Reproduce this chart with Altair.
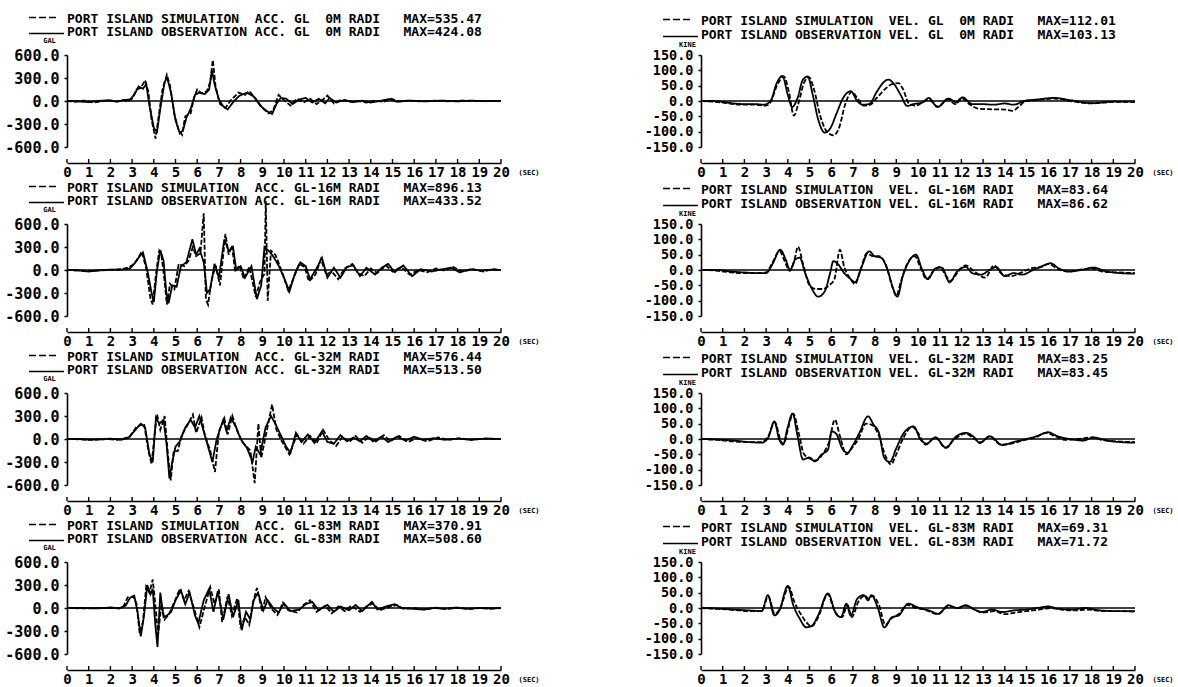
import altair as alt
import pandas as pd

# ---------------- acceleration records (gal) ----------------
acc_gl0_sim_t = [0, 0.4, 0.8, 1.2, 1.6, 2.0, 2.3, 2.6, 2.8, 3.0, 3.2, 3.4, 3.6, 3.75, 3.9, 4.08, 4.25, 4.4, 4.6, 4.75, 4.95, 5.15, 5.3, 5.45, 5.7, 5.85, 6.0, 6.2, 6.45, 6.6, 6.72, 6.85, 7.05, 7.3, 7.55, 7.9, 8.2, 8.4, 8.7, 9.0, 9.3, 9.5, 9.75, 10.0, 10.3, 10.6, 10.9, 11.2, 11.5, 11.8, 12.0, 12.3, 12.6, 13.0, 13.4, 13.8, 14.2, 14.6, 14.95, 15.3, 15.7, 16.2, 17.0, 17.5, 18.2, 19.0, 20.0]
acc_gl0_sim_v = [0, -8, 5, -20, -5, 8, -5, 15, -10, 30, 150, 170, 270, 120, -250, -490, -150, 150, 340, 200, -180, -380, -440, -200, -160, 40, 150, 100, 130, 250, 535, 180, -40, -90, 10, 110, 80, 130, 30, -90, -160, -120, 80, 10, -60, 30, -20, 30, -40, 20, 70, -30, 10, -10, 0, -20, 5, -10, 30, -5, 5, -5, 5, -5, 5, -3, 0]
acc_gl0_obs_t = [0, 0.5, 1.0, 1.4, 1.9, 2.3, 2.6, 2.9, 3.1, 3.3, 3.5, 3.65, 3.8, 4.0, 4.15, 4.3, 4.5, 4.62, 4.8, 5.0, 5.2, 5.35, 5.5, 5.7, 5.9, 6.1, 6.35, 6.55, 6.68, 6.8, 7.0, 7.2, 7.4, 7.7, 7.95, 8.3, 8.6, 8.9, 9.2, 9.45, 9.65, 9.85, 10.1, 10.4, 10.7, 11.0, 11.3, 11.6, 11.9, 12.1, 12.4, 12.8, 13.2, 13.6, 14.0, 14.4, 14.85, 15.2, 15.8, 16.5, 17.3, 18.0, 18.6, 19.3, 20.0]
acc_gl0_obs_v = [0, -5, -15, 0, 10, -10, 10, 20, 80, 190, 160, 220, -60, -350, -400, -100, 250, 300, 100, -250, -424, -380, -220, -100, 80, 110, 90, 150, 400, 220, 20, -70, -110, 0, 70, 110, 60, -60, -130, -170, -40, 40, 30, -40, 20, 40, -20, 30, -30, 40, -20, 15, -15, 5, -20, 0, 25, -10, 5, -5, 5, -5, 5, -3, 0]

acc_gl16_sim_t = [0, 0.5, 1.0, 1.5, 2.0, 2.5, 2.8, 3.0, 3.2, 3.45, 3.65, 3.85, 3.95, 4.1, 4.25, 4.35, 4.5, 4.6, 4.75, 4.95, 5.15, 5.4, 5.6, 5.8, 5.95, 6.15, 6.3, 6.4, 6.5, 6.65, 6.85, 7.05, 7.3, 7.45, 7.6, 7.75, 7.95, 8.15, 8.4, 8.7, 8.9, 9.1, 9.16, 9.25, 9.4, 9.6, 9.85, 10.2, 10.45, 10.7, 10.95, 11.15, 11.45, 11.7, 11.95, 12.2, 12.5, 12.8, 13.15, 13.4, 13.7, 14.0, 14.3, 14.7, 15.0, 15.4, 15.8, 16.2, 16.6, 17.0, 17.4, 17.8, 18.2, 18.7, 19.2, 19.6, 20.0]
acc_gl16_sim_v = [0, -5, -15, -5, 0, 10, 30, 60, 120, 240, 20, -380, -450, -50, 250, 200, -150, -450, -180, -250, 80, 50, 120, 300, 180, 220, 740, -380, -450, -150, 60, -200, 470, 200, 320, -20, 60, -120, 40, -350, -150, -50, 896, -400, 250, 200, 20, -270, -100, 80, 40, -150, -60, 140, -60, -20, -120, 20, 80, -40, -80, 20, -40, 60, -20, 40, -60, 0, -30, 20, -10, 40, -20, 10, -20, 10, 0]
acc_gl16_obs_t = [0, 0.5, 1.0, 1.5, 2.0, 2.5, 2.9, 3.1, 3.35, 3.5, 3.7, 3.9, 4.0, 4.15, 4.3, 4.45, 4.58, 4.68, 4.85, 5.05, 5.25, 5.5, 5.78, 5.95, 6.1, 6.3, 6.45, 6.6, 6.8, 7.0, 7.25, 7.45, 7.65, 7.8, 8.0, 8.2, 8.5, 8.75, 8.95, 9.1, 9.3, 9.5, 9.75, 10.0, 10.25, 10.5, 10.75, 11.0, 11.2, 11.5, 11.75, 12.0, 12.3, 12.6, 12.9, 13.2, 13.5, 13.8, 14.2, 14.5, 14.8, 15.1, 15.5, 15.9, 16.3, 16.8, 17.3, 17.7, 18.1, 18.6, 19.1, 19.6, 20.0]
acc_gl16_obs_v = [0, -5, -20, -5, 5, 5, 20, 80, 180, 230, 0, -300, -420, 0, 260, 120, -300, -433, -200, -220, 50, 100, 400, 200, 280, 100, -300, -250, 80, -100, 400, 250, 300, 0, 50, -100, 50, -380, -200, 300, 250, 180, 60, -100, -280, -50, 100, 50, -120, 20, 160, -100, 30, -100, 40, 60, -80, 30, -60, 30, 80, -30, 60, -80, 10, -20, 10, 30, -30, 10, -10, 5, 0]

acc_gl32_sim_t = [0, 0.6, 1.2, 1.8, 2.3, 2.6, 2.9, 3.2, 3.55, 3.75, 3.9, 4.05, 4.15, 4.3, 4.5, 4.65, 4.78, 4.92, 5.1, 5.3, 5.55, 5.8, 5.95, 6.2, 6.35, 6.6, 6.82, 7.0, 7.25, 7.4, 7.62, 7.85, 8.1, 8.45, 8.65, 8.82, 8.95, 9.2, 9.45, 9.65, 9.9, 10.25, 10.6, 10.9, 11.2, 11.5, 11.8, 12.1, 12.4, 12.7, 13.0, 13.3, 13.6, 13.9, 14.2, 14.6, 14.9, 15.3, 15.7, 16.1, 16.6, 17.1, 17.6, 18.1, 18.6, 19.2, 20.0]
acc_gl32_sim_v = [0, -5, -10, 0, -10, 5, 30, 160, 200, -150, -330, 100, 320, 120, 300, -200, -540, -150, -160, 60, 180, 320, 80, 280, 50, -150, -430, 100, 270, 60, 300, 100, -50, -150, -576, 200, -250, 100, 450, 120, -30, -200, 60, -60, 40, -60, 120, -20, -90, 30, -40, 40, -50, 30, -40, 50, -30, 40, -40, 10, -30, 20, -10, 10, -10, 5, 0]
acc_gl32_obs_t = [0, 0.5, 1.0, 1.6, 2.0, 2.5, 2.8, 3.1, 3.4, 3.6, 3.8, 3.95, 4.1, 4.25, 4.45, 4.6, 4.72, 4.85, 5.0, 5.2, 5.45, 5.7, 5.9, 6.1, 6.3, 6.5, 6.7, 6.9, 7.2, 7.35, 7.55, 7.8, 8.0, 8.3, 8.55, 8.7, 8.9, 9.15, 9.4, 9.6, 9.85, 10.1, 10.3, 10.55, 10.8, 11.1, 11.4, 11.75, 12.0, 12.3, 12.6, 12.9, 13.2, 13.5, 13.8, 14.1, 14.5, 14.8, 15.2, 15.6, 16.0, 16.4, 16.9, 17.4, 18.0, 18.6, 19.3, 20.0]
acc_gl32_obs_v = [0, 0, -10, -5, 5, -10, 10, 100, 200, 150, -200, -300, 280, 200, 250, -100, -513, -300, -100, -30, 150, 250, 150, 300, 100, -100, -300, 0, 250, 100, 280, 150, 0, -120, -300, -100, -200, 150, 300, 200, 50, -100, -180, 80, -40, 60, -50, 100, -40, -60, 50, -30, 20, -30, 40, -30, 30, -40, 30, -20, 30, -10, 10, -10, 5, -10, 5, 0]

acc_gl83_sim_t = [0, 0.8, 1.6, 2.1, 2.4, 2.6, 2.8, 3.05, 3.2, 3.35, 3.5, 3.65, 3.8, 3.95, 4.05, 4.2, 4.35, 4.5, 4.7, 4.95, 5.2, 5.4, 5.6, 5.85, 6.1, 6.35, 6.6, 6.8, 7.0, 7.15, 7.4, 7.6, 7.85, 8.0, 8.2, 8.4, 8.55, 8.75, 9.0, 9.15, 9.45, 9.7, 9.95, 10.2, 10.6, 10.9, 11.2, 11.5, 11.9, 12.2, 12.5, 12.8, 13.1, 13.5, 13.8, 14.1, 14.4, 14.8, 15.2, 15.5, 16.0, 16.5, 17.0, 17.5, 18.0, 18.5, 19.0, 19.5, 20.0]
acc_gl83_sim_v = [0, -5, 0, 5, -5, 20, 140, 150, 60, -330, -180, 280, 200, 371, 100, -350, 50, -150, -80, 80, 250, 100, 220, 0, -250, 20, 270, 50, 240, -180, 150, -100, 130, -260, -120, -220, 50, 260, -50, 140, -20, -90, 70, -30, -60, 40, 100, -50, 30, -70, 20, -40, 30, -50, 20, 60, -30, 10, 40, -10, 0, -20, 5, -15, 5, -15, 0, -10, 0]
acc_gl83_obs_t = [0, 0.7, 1.4, 2.0, 2.4, 2.7, 2.9, 3.1, 3.25, 3.4, 3.55, 3.7, 3.85, 3.95, 4.08, 4.17, 4.3, 4.45, 4.6, 4.8, 5.0, 5.25, 5.45, 5.65, 5.9, 6.05, 6.3, 6.55, 6.75, 6.95, 7.2, 7.45, 7.65, 7.9, 8.05, 8.25, 8.45, 8.6, 8.8, 9.05, 9.25, 9.5, 9.75, 10.0, 10.3, 10.7, 11.0, 11.3, 11.6, 12.0, 12.3, 12.6, 13.0, 13.3, 13.6, 14.05, 14.3, 14.7, 15.1, 15.4, 15.9, 16.4, 16.9, 17.4, 17.9, 18.4, 19.0, 19.6, 20.0]
acc_gl83_obs_v = [0, 0, -5, 5, -5, 30, 130, 160, -50, -370, -100, 300, 180, 250, -250, -508, 200, -120, -100, -50, 100, 230, 50, 200, -100, -200, 100, 250, -50, 220, -150, 180, -120, 100, -290, -50, -150, 100, 200, -30, 100, 0, -60, 60, -40, -20, 50, 80, -30, 40, -50, 20, -30, 40, -40, 80, -20, 20, 50, 0, -10, -20, 0, -10, 5, -10, 0, -5, 0]

# ---------------- velocity records (kine) ----------------
vel_gl0_sim_t = [0, 0.5, 1.0, 1.5, 2.0, 2.5, 3.0, 3.2, 3.5, 3.82, 4.05, 4.28, 4.5, 4.75, 4.98, 5.2, 5.5, 5.8, 6.1, 6.35, 6.65, 6.95, 7.2, 7.5, 7.8, 8.1, 8.5, 8.8, 9.1, 9.3, 9.6, 9.9, 10.2, 10.5, 10.9, 11.4, 11.7, 12.0, 12.4, 12.8, 13.4, 14.0, 14.35, 14.7, 14.95, 15.5, 16.3, 17.0, 18.0, 19.0, 20.0]
vel_gl0_sim_v = [0, -2, -5, -10, -12, -12, -15, -5, 50, 80, 30, -48, -5, 60, 78, 40, -50, -100, -112, -90, -10, 30, 10, -15, -12, 10, 40, 55, 58, 40, -10, -15, -5, 5, -18, 5, -10, 10, -12, -25, -27, -28, -32, -15, 0, 3, 8, 0, -8, -3, -3]
vel_gl0_obs_t = [0, 0.5, 1.0, 1.5, 2.0, 2.5, 2.9, 3.2, 3.5, 3.75, 4.0, 4.2, 4.45, 4.7, 4.92, 5.15, 5.4, 5.7, 5.95, 6.25, 6.55, 6.9, 7.2, 7.45, 7.75, 8.1, 8.4, 8.63, 8.9, 9.2, 9.5, 9.8, 10.2, 10.5, 10.9, 11.4, 11.8, 12.05, 12.5, 12.9, 13.5, 14.0, 14.4, 14.9, 15.5, 16.3, 17.0, 18.0, 19.0, 20.0]
vel_gl0_obs_v = [0, 0, -3, -8, -10, -10, -12, 0, 60, 82, 20, -20, 10, 70, 80, 20, -60, -103, -90, -40, 10, 32, 0, -12, -10, 30, 60, 70, 55, 20, -16, -10, -5, 10, -20, 8, -5, 12, -10, -10, -12, -8, -12, 0, 5, 10, 3, -7, -2, -2]

vel_gl16_sim_t = [0, 0.7, 1.4, 2.0, 2.6, 3.0, 3.3, 3.62, 3.85, 4.1, 4.3, 4.47, 4.7, 5.0, 5.3, 5.6, 5.9, 6.15, 6.4, 6.6, 6.85, 7.1, 7.35, 7.65, 7.9, 8.2, 8.5, 8.8, 9.0, 9.2, 9.5, 9.85, 10.1, 10.4, 10.75, 11.0, 11.3, 11.5, 11.8, 12.2, 12.6, 13.1, 13.5, 13.9, 14.3, 14.7, 15.2, 15.7, 16.0, 16.4, 16.9, 17.4, 18.0, 18.5, 19.2, 20.0]
vel_gl16_sim_v = [0, -2, -8, -10, -10, -8, 25, 62, 30, -3, 30, 76, 20, -50, -62, -62, -50, -30, 66, 10, -25, -46, 0, 55, 45, 45, 20, -50, -84, -40, 20, 45, 10, -30, 0, 10, -20, -35, -10, 15, -5, -25, 15, -15, -20, -10, 5, 10, 20, 5, -5, 0, 5, -5, -8, -10]
vel_gl16_obs_t = [0, 0.7, 1.4, 2.0, 2.6, 3.0, 3.3, 3.65, 3.9, 4.1, 4.35, 4.55, 4.8, 5.1, 5.4, 5.7, 5.95, 6.1, 6.3, 6.6, 6.9, 7.1, 7.4, 7.75, 8.0, 8.3, 8.6, 8.85, 9.05, 9.3, 9.6, 9.9, 10.2, 10.45, 10.8, 11.1, 11.45, 11.8, 12.2, 12.5, 12.9, 13.3, 13.6, 14.0, 14.4, 14.8, 15.3, 15.8, 16.1, 16.5, 17.0, 17.5, 18.1, 18.6, 19.3, 20.0]
vel_gl16_obs_v = [0, 0, -5, -8, -10, -10, 20, 66, 35, 0, 35, 40, -10, -60, -87, -70, -10, 29, 20, -10, -30, -40, 10, 61, 45, 40, 0, -60, -87, -20, 30, 50, 0, -30, 5, 8, -40, -5, 10, -10, -15, 0, 10, -20, -10, -15, 0, 15, 22, 5, -5, 0, 8, -3, -10, -12]

vel_gl32_sim_t = [0, 0.8, 1.5, 2.2, 2.8, 3.1, 3.4, 3.7, 3.82, 4.0, 4.25, 4.5, 4.75, 5.05, 5.3, 5.6, 5.9, 6.17, 6.4, 6.7, 6.95, 7.25, 7.6, 7.9, 8.2, 8.5, 8.75, 9.0, 9.3, 9.75, 10.0, 10.35, 10.8, 11.25, 11.7, 12.2, 12.6, 12.9, 13.3, 13.8, 14.3, 14.8, 15.4, 15.9, 16.3, 16.8, 17.4, 18.0, 18.5, 19.2, 20.0]
vel_gl32_sim_v = [0, -3, -8, -10, -10, 10, 55, -10, -15, 30, 83, 20, -50, -65, -70, -50, -10, 63, 10, -50, -30, 0, 50, 45, 10, -55, -83, -50, 0, 40, 20, -18, 5, -28, 0, 18, 0, -10, 8, -18, -15, -5, 5, 20, 10, -3, 0, 5, -3, -8, -10]
vel_gl32_obs_t = [0, 0.8, 1.5, 2.2, 2.8, 3.1, 3.38, 3.6, 3.78, 4.0, 4.22, 4.45, 4.7, 5.0, 5.25, 5.55, 5.85, 6.02, 6.25, 6.5, 6.75, 7.0, 7.3, 7.7, 7.95, 8.2, 8.45, 8.7, 9.0, 9.35, 9.8, 10.1, 10.4, 10.8, 11.3, 11.7, 12.2, 12.6, 12.85, 13.3, 13.9, 14.4, 15.0, 15.5, 16.0, 16.4, 17.0, 17.6, 18.1, 18.7, 19.3, 20.0]
vel_gl32_obs_v = [0, -2, -5, -10, -12, 5, 57, 0, -18, 40, 83, 10, -67, -60, -73, -51, -35, 25, 15, -30, -45, -20, 20, 74, 47, 20, -62, -75, -30, 20, 41, 0, -15, 5, -29, 5, 20, 5, -13, 9, -20, -10, 0, 10, 22, 10, 0, -5, 5, -5, -10, -12]

vel_gl83_sim_t = [0, 0.8, 1.5, 2.2, 2.8, 3.1, 3.4, 3.65, 4.05, 4.3, 4.6, 4.9, 5.1, 5.4, 5.85, 6.1, 6.3, 6.5, 6.75, 6.95, 7.25, 7.55, 7.75, 7.9, 8.2, 8.5, 8.75, 9.1, 9.5, 9.9, 10.3, 10.9, 11.4, 11.9, 12.2, 12.6, 13.0, 13.5, 14.0, 14.5, 15.0, 15.6, 16.1, 16.6, 17.2, 17.8, 18.5, 19.2, 20.0]
vel_gl83_sim_v = [0, -3, -6, -10, -10, 38, -20, 0, 69, 20, -20, -50, -60, -30, 45, 0, -25, -30, 10, -30, 20, 40, 30, 40, 10, -55, -35, -20, 10, 0, -5, -20, 5, 0, 8, -5, -15, -10, -20, -15, -10, -5, 0, -5, -8, -5, -10, -10, -12]
vel_gl83_obs_t = [0, 0.8, 1.5, 2.2, 2.8, 3.08, 3.38, 3.6, 4.0, 4.25, 4.55, 4.85, 5.1, 5.4, 5.85, 6.2, 6.45, 6.7, 6.9, 7.2, 7.5, 7.7, 7.85, 8.15, 8.45, 8.8, 9.1, 9.55, 10.0, 10.5, 10.95, 11.4, 11.8, 12.2, 12.6, 12.95, 13.4, 13.9, 14.4, 15.0, 15.5, 16.0, 16.5, 17.1, 17.7, 18.4, 19.1, 20.0]
vel_gl83_obs_v = [0, -2, -5, -8, -10, 42, -24, -10, 72, 10, -35, -63, -58, -24, 48, -15, -30, 14, -25, 30, 42, 25, 42, 0, -63, -30, -25, 14, 2, -8, -19, 9, 0, 9, -5, -13, -5, -13, -8, -5, 0, 5, -3, -5, 0, -8, -10, -10]

# ---------------- panel headers ----------------
acc_headers = [
    ("PORT ISLAND SIMULATION  ACC. GL  0M RADI   MAX=535.47",
     "PORT ISLAND OBSERVATION ACC. GL  0M RADI   MAX=424.08"),
    ("PORT ISLAND SIMULATION  ACC. GL-16M RADI   MAX=896.13",
     "PORT ISLAND OBSERVATION ACC. GL-16M RADI   MAX=433.52"),
    ("PORT ISLAND SIMULATION  ACC. GL-32M RADI   MAX=576.44",
     "PORT ISLAND OBSERVATION ACC. GL-32M RADI   MAX=513.50"),
    ("PORT ISLAND SIMULATION  ACC. GL-83M RADI   MAX=370.91",
     "PORT ISLAND OBSERVATION ACC. GL-83M RADI   MAX=508.60"),
]
vel_headers = [
    ("PORT ISLAND SIMULATION  VEL. GL  0M RADI   MAX=112.01",
     "PORT ISLAND OBSERVATION VEL. GL  0M RADI   MAX=103.13"),
    ("PORT ISLAND SIMULATION  VEL. GL-16M RADI   MAX=83.64",
     "PORT ISLAND OBSERVATION VEL. GL-16M RADI   MAX=86.62"),
    ("PORT ISLAND SIMULATION  VEL. GL-32M RADI   MAX=83.25",
     "PORT ISLAND OBSERVATION VEL. GL-32M RADI   MAX=83.45"),
    ("PORT ISLAND SIMULATION  VEL. GL-83M RADI   MAX=69.31",
     "PORT ISLAND OBSERVATION VEL. GL-83M RADI   MAX=71.72"),
]

acc_records = [
    (acc_gl0_sim_t, acc_gl0_sim_v, acc_gl0_obs_t, acc_gl0_obs_v),
    (acc_gl16_sim_t, acc_gl16_sim_v, acc_gl16_obs_t, acc_gl16_obs_v),
    (acc_gl32_sim_t, acc_gl32_sim_v, acc_gl32_obs_t, acc_gl32_obs_v),
    (acc_gl83_sim_t, acc_gl83_sim_v, acc_gl83_obs_t, acc_gl83_obs_v),
]
vel_records = [
    (vel_gl0_sim_t, vel_gl0_sim_v, vel_gl0_obs_t, vel_gl0_obs_v),
    (vel_gl16_sim_t, vel_gl16_sim_v, vel_gl16_obs_t, vel_gl16_obs_v),
    (vel_gl32_sim_t, vel_gl32_sim_v, vel_gl32_obs_t, vel_gl32_obs_v),
    (vel_gl83_sim_t, vel_gl83_sim_v, vel_gl83_obs_t, vel_gl83_obs_v),
]

time_ticks = list(range(0, 21))
acc_ticks = [-600, -300, 0, 300, 600]
vel_ticks = [-150, -100, -50, 0, 50, 100, 150]

MONO = "DejaVu Sans Mono"
NBSP = "\u00a0"
W, H = 434, 92
AXIS_OFFSET = 16


def panel(record, header, yticks, unit, smooth, head_y, unit_xy, ylabel_size):
    sim_t, sim_v, obs_t, obs_v = record
    data = pd.concat([
        pd.DataFrame({"t": sim_t, "v": sim_v, "series": "SIM"}),
        pd.DataFrame({"t": obs_t, "v": obs_v, "series": "OBS"}),
    ])
    xs = alt.Scale(domain=[0, 20], nice=False, zero=False)
    ys = alt.Scale(domain=[yticks[0], yticks[-1]], nice=False)

    x_axis = alt.Axis(
        values=time_ticks, format="d", offset=AXIS_OFFSET, grid=False, ticks=False,
        domainColor="black", domainWidth=1.6,
        labelFont=MONO, labelFontSize=14, labelFontWeight="bold", labelColor="black",
        labelPadding=2, labelFlush=False, labelOverlap=False,
        title="(SEC)", titleAngle=0, titleX=W + 17, titleY=9, titleAlign="left",
        titleBaseline="middle", titleFont=MONO, titleFontSize=7, titleFontWeight="bold",
        titleColor="black",
    )
    y_axis = alt.Axis(
        values=yticks, labelExpr="replace(format(datum.value, '.1f'), '\u2212', '-')",
        grid=False, tickSize=3, tickColor="black", tickWidth=1.5,
        domainColor="black", domainWidth=1.6,
        labelFont=MONO, labelFontSize=ylabel_size, labelFontWeight="bold", labelColor="black",
        labelPadding=5, labelFlush=False, labelOverlap=False,
        title=unit, titleAngle=0, titleX=unit_xy[0], titleY=unit_xy[1], titleAlign="center",
        titleBaseline="middle", titleFont=MONO, titleFontSize=7, titleFontWeight="bold",
        titleColor="black",
    )
    x_enc = alt.X("t:Q", scale=xs, axis=x_axis)

    lines = alt.Chart(data).mark_line(
        color="black", strokeWidth=1.8, interpolate="monotone" if smooth else "linear"
    ).encode(
        x=x_enc,
        y=alt.Y("v:Q", scale=ys, axis=y_axis),
        detail="series:N",
        strokeDash=alt.StrokeDash(
            "series:N",
            scale=alt.Scale(domain=["SIM", "OBS"], range=[[5, 2], [1, 0]]),
            legend=None,
        ),
    )

    one = pd.DataFrame({"k": [0]})
    baseline = alt.Chart(one).mark_rule(color="black", strokeWidth=1.4).encode(
        y=alt.Y(datum=0, scale=ys, axis=y_axis)
    )
    # time ticks rise from the offset axis line
    ticks = alt.Chart(pd.DataFrame({"t": time_ticks})).mark_rule(
        color="black", strokeWidth=1.4
    ).encode(
        x=x_enc,
        y=alt.value(H + AXIS_OFFSET - 4),
        y2=alt.value(H + AXIS_OFFSET),
    )

    text_style = dict(align="left", baseline="middle", font=MONO, fontSize=13,
                      fontWeight="bold", color="black")
    line1 = alt.Chart(one).mark_text(**text_style).encode(
        x=alt.value(0), y=alt.value(head_y[0]), text=alt.value(header[0].replace(" ", NBSP)))
    line2 = alt.Chart(one).mark_text(**text_style).encode(
        x=alt.value(0), y=alt.value(head_y[1]), text=alt.value(header[1].replace(" ", NBSP)))
    key_sim = alt.Chart(one).mark_rule(color="black", strokeWidth=1.4, strokeDash=[7, 3]).encode(
        x=alt.value(-38), x2=alt.value(-8), y=alt.value(head_y[0] - 1.5))
    key_obs = alt.Chart(one).mark_rule(color="black", strokeWidth=1.4).encode(
        x=alt.value(-38), x2=alt.value(-3), y=alt.value(head_y[1] + 1.5))

    return alt.layer(lines, baseline, ticks, line1, line2, key_sim, key_obs).properties(
        width=W, height=H
    )


rows = []
for ar, ah, vr, vh in zip(acc_records, acc_headers, vel_records, vel_headers):
    acc_panel = panel(ar, ah, acc_ticks, "GAL", False, (-36, -23), (-18, -15), 15)
    vel_panel = panel(vr, vh, vel_ticks, "KINE", True, (-34, -20), (-14, -11), 13.5)
    rows.append(alt.hconcat(acc_panel, vel_panel, spacing=104))

chart = alt.vconcat(*rows, spacing=3).properties(
    padding={"left": 4, "top": 13, "right": 0, "bottom": 0},
    background="white",
).configure_view(stroke=None)

chart.save("out.html", embed_options={"renderer": "svg", "actions": False})
